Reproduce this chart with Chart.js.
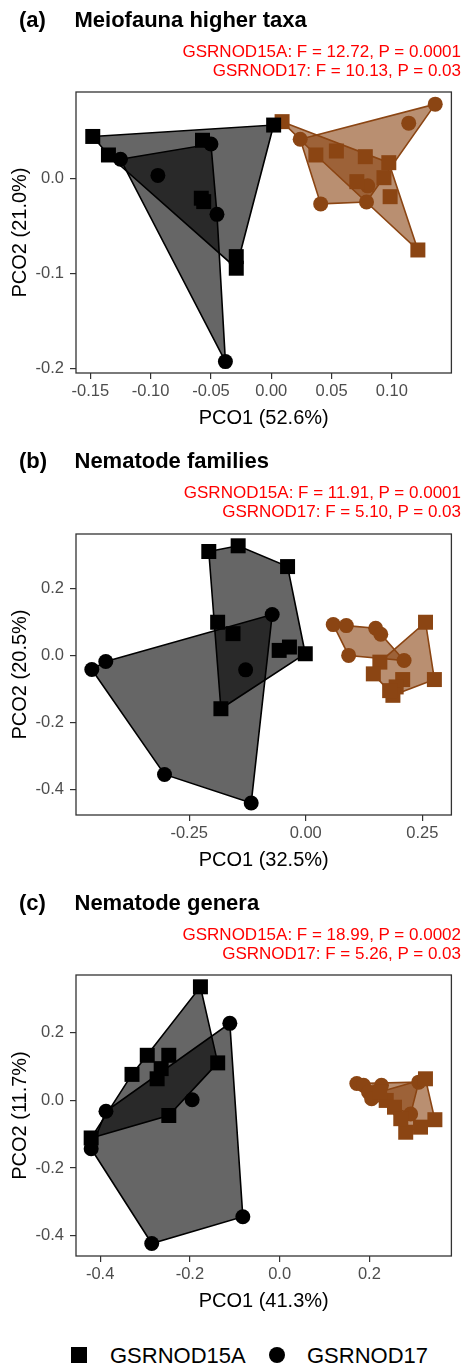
<!DOCTYPE html>
<html>
<head>
<meta charset="utf-8">
<script src="https://cdn.jsdelivr.net/npm/chart.js@4.4.1/dist/chart.umd.min.js"></script>
<style>
html,body{margin:0;padding:0;background:#fff;width:462px;height:1365px;overflow:hidden;}
body{position:relative;font-family:"Liberation Sans",Arial,sans-serif;}
.panel{position:absolute;left:0;width:462px;height:441px;}
.panel canvas{position:absolute;left:0;top:0;}
.tag,.title{position:absolute;font-weight:bold;font-size:22px;line-height:22px;color:#000;white-space:nowrap;}
.stat{position:absolute;right:1px;font-size:17px;line-height:17px;color:#FF0000;text-align:right;white-space:nowrap;}
.lg-sq{position:absolute;width:16px;height:16px;background:#000;}
.lg-ci{position:absolute;width:16px;height:16px;background:#000;border-radius:50%;}
.lg-tx{position:absolute;font-size:22px;line-height:22px;color:#000;white-space:nowrap;}
</style>
</head>
<body>
<script>
// ---------------- DATA ----------------
const panelTags = ['(a)', '(b)', '(c)'];
const panelTitles = ['Meiofauna higher taxa', 'Nematode families', 'Nematode genera'];
const stat15A = ['GSRNOD15A: F = 12.72, P = 0.0001', 'GSRNOD15A: F = 11.91, P = 0.0001', 'GSRNOD15A: F = 18.99, P = 0.0002'];
const stat17 = ['GSRNOD17: F = 10.13, P = 0.03', 'GSRNOD17: F = 5.10, P = 0.03', 'GSRNOD17: F = 5.26, P = 0.03'];
const xTitles = ['PCO1 (52.6%)', 'PCO1 (32.5%)', 'PCO1 (41.3%)'];
const yTitles = ['PCO2 (21.0%)', 'PCO2 (20.5%)', 'PCO2 (11.7%)'];
const legendLabels = ['GSRNOD15A', 'GSRNOD17'];

// tick values and labels
const xTicksA = [-0.15, -0.10, -0.05, 0.00, 0.05, 0.10];
const xTickLabelsA = ['-0.15', '-0.10', '-0.05', '0.00', '0.05', '0.10'];
const yTicksA = [-0.2, -0.1, 0.0];
const yTickLabelsA = ['-0.2', '-0.1', '0.0'];
const xTicksB = [-0.25, 0.00, 0.25];
const xTickLabelsB = ['-0.25', '0.00', '0.25'];
const yTicksB = [-0.4, -0.2, 0.0, 0.2];
const yTickLabelsB = ['-0.4', '-0.2', '0.0', '0.2'];
const xTicksC = [-0.4, -0.2, 0.0, 0.2];
const xTickLabelsC = ['-0.4', '-0.2', '0.0', '0.2'];
const yTicksC = [-0.4, -0.2, 0.0, 0.2];
const yTickLabelsC = ['-0.4', '-0.2', '0.0', '0.2'];

// axis limits
const xRangeA = [-0.1619, 0.1494], yRangeA = [-0.205, 0.0908];
const xRangeB = [-0.4929, 0.3125], yRangeB = [-0.476, 0.3622];
const xRangeC = [-0.4538, 0.3828], yRangeC = [-0.46, 0.3709];

// (a) Meiofauna higher taxa  [PCO1, PCO2]
const aBlack15A = [[-0.148,0.044],[-0.135,0.0245],[-0.057,0.040],[-0.058,-0.021],[-0.056,-0.0246],[-0.029,-0.0825],[-0.029,-0.0947],[0.002,0.056]];
const aBlack17  = [[-0.125,0.020],[-0.094,0.003],[-0.050,0.036],[-0.045,-0.038],[-0.038,-0.193]];
const aBrown15A = [[0.009,0.0596],[0.037,0.0245],[0.054,0.0287],[0.078,0.0227],[0.0975,0.0164],[0.071,-0.0036],[0.0935,0.0006],[0.0986,-0.0194],[0.1216,-0.0755]];
const aBrown17  = [[0.024,0.041],[0.136,0.078],[0.114,0.058],[0.041,-0.027],[0.079,-0.025],[0.080,-0.008]];

// (b) Nematode families
const bBlack15A = [[-0.208,0.310],[-0.145,0.327],[-0.039,0.265],[-0.189,0.099],[-0.156,0.065],[-0.057,0.015],[-0.035,0.025],[-0.001,0.005],[-0.182,-0.159]];
const bBlack17  = [[-0.459,-0.042],[-0.429,-0.018],[-0.072,0.122],[-0.129,-0.043],[-0.303,-0.355],[-0.117,-0.440]];
const bBrown15A = [[0.257,0.099],[0.159,-0.020],[0.145,-0.055],[0.276,-0.072],[0.208,-0.072],[0.194,-0.094],[0.187,-0.119],[0.180,-0.105]];
const bBrown17  = [[0.059,0.092],[0.087,0.089],[0.150,0.081],[0.161,0.063],[0.092,0.000],[0.211,-0.015]];

// (c) Nematode genera
const cBlack15A = [[-0.1765,0.336],[-0.295,0.1335],[-0.247,0.1335],[-0.329,0.077],[-0.264,0.094],[-0.273,0.064],[-0.138,0.111],[-0.247,-0.0445],[-0.420,-0.111]];
const cBlack17  = [[-0.111,0.228],[-0.387,-0.032],[-0.195,0.002],[-0.420,-0.143],[-0.082,-0.344],[-0.285,-0.423]];
const cBrown15A = [[0.325,0.064],[0.346,-0.057],[0.2375,0.0],[0.256,-0.020],[0.281,-0.094],[0.314,-0.079],[0.270,-0.054],[0.223,0.025]];
const cBrown17  = [[0.172,0.050],[0.187,0.045],[0.198,0.025],[0.205,0.005],[0.227,0.045],[0.310,0.054],[0.292,-0.040]];

// ---------------- STYLE ----------------
const FONT = '"Liberation Sans", Arial, sans-serif';
const BLACK = '#000000', BROWN = '#8B4513';
const BLACK_FILL = 'rgba(0,0,0,0.6)', BROWN_FILL = 'rgba(139,69,19,0.6)';
const PANEL_TOPS = [0, 441.5, 883];

function hull(points) {
  const p = points.map(q => [q[0], q[1]]).sort((a, b) => a[0] - b[0] || a[1] - b[1]);
  const cross = (o, a, b) => (a[0]-o[0])*(b[1]-o[1]) - (a[1]-o[1])*(b[0]-o[0]);
  const lower = [], upper = [];
  for (const pt of p) { while (lower.length >= 2 && cross(lower[lower.length-2], lower[lower.length-1], pt) <= 0) lower.pop(); lower.push(pt); }
  for (let i = p.length - 1; i >= 0; i--) { const pt = p[i]; while (upper.length >= 2 && cross(upper[upper.length-2], upper[upper.length-1], pt) <= 0) upper.pop(); upper.push(pt); }
  upper.pop(); lower.pop();
  const h = lower.concat(upper);
  h.push(h[0]);
  return h;
}

const borderPlugin = {
  id: 'panelBorder',
  afterDatasetsDraw(chart) {
    const a = chart.chartArea, ctx = chart.ctx;
    ctx.save();
    ctx.strokeStyle = '#333333';
    ctx.lineWidth = 1.3;
    ctx.strokeRect(a.left, a.top, a.right - a.left, a.bottom - a.top);
    ctx.restore();
  }
};

const panels = [
  {groups: [[aBlack15A,'sq',BLACK,BLACK_FILL],[aBlack17,'ci',BLACK,BLACK_FILL],[aBrown15A,'sq',BROWN,BROWN_FILL],[aBrown17,'ci',BROWN,BROWN_FILL]],
   xr: xRangeA, yr: yRangeA, xt: xTicksA, xl: xTickLabelsA, yt: yTicksA, yl: yTickLabelsA},
  {groups: [[bBlack15A,'sq',BLACK,BLACK_FILL],[bBlack17,'ci',BLACK,BLACK_FILL],[bBrown15A,'sq',BROWN,BROWN_FILL],[bBrown17,'ci',BROWN,BROWN_FILL]],
   xr: xRangeB, yr: yRangeB, xt: xTicksB, xl: xTickLabelsB, yt: yTicksB, yl: yTickLabelsB},
  {groups: [[cBlack15A,'sq',BLACK,BLACK_FILL],[cBlack17,'ci',BLACK,BLACK_FILL],[cBrown15A,'sq',BROWN,BROWN_FILL],[cBrown17,'ci',BROWN,BROWN_FILL]],
   xr: xRangeC, yr: yRangeC, xt: xTicksC, xl: xTickLabelsC, yt: yTicksC, yl: yTickLabelsC}
];

function addDiv(cls, text, styles) {
  const d = document.createElement('div');
  d.className = cls;
  if (text) d.textContent = text;
  Object.assign(d.style, styles);
  document.body.appendChild(d);
  return d;
}

panels.forEach((P, i) => {
  const T = PANEL_TOPS[i];
  const wrap = addDiv('panel', null, {top: T + 'px'});
  const cv = document.createElement('canvas');
  cv.width = 462; cv.height = 441;
  cv.style.width = '462px'; cv.style.height = '441px';
  wrap.appendChild(cv);

  addDiv('tag', panelTags[i], {left: '19px', top: (T + 8.9) + 'px'});
  addDiv('title', panelTitles[i], {left: '74.5px', top: (T + 8.9) + 'px'});
  addDiv('stat', stat15A[i], {top: (T + 42.9) + 'px'});
  addDiv('stat', stat17[i], {top: (T + 61.6) + 'px'});

  const datasets = [];
  P.groups.forEach(g => {
    datasets.push({
      type: 'scatter',
      data: g[0].map(p => ({x: p[0], y: p[1]})),
      pointStyle: g[1] === 'sq' ? 'rect' : 'circle',
      pointRadius: g[1] === 'sq' ? 10.6 : 7.5,
      pointHoverRadius: g[1] === 'sq' ? 10.6 : 7.5,
      backgroundColor: g[2], borderColor: g[2], borderWidth: 0,
      showLine: false, order: 1, clip: false
    });
  });
  P.groups.forEach(g => {
    datasets.push({
      type: 'line',
      data: hull(g[0]).map(p => ({x: p[0], y: p[1]})),
      borderColor: g[2], borderWidth: 1.6, backgroundColor: g[3],
      fill: 'shape', pointRadius: 0, pointHoverRadius: 0, tension: 0, order: 2
    });
  });

  new Chart(cv, {
    type: 'scatter',
    data: {datasets},
    options: {
      responsive: false, animation: false, devicePixelRatio: 1, events: [],
      layout: {padding: {top: 92, right: 2, left: 0, bottom: 0}},
      plugins: {legend: {display: false}, tooltip: {enabled: false}, title: {display: false}},
      scales: {
        x: {
          type: 'linear', position: 'bottom', min: P.xr[0], max: P.xr[1],
          afterBuildTicks: s => { s.ticks = P.xt.map(v => ({value: v})); },
          afterFit: s => { s.height = 68; },
          ticks: {
            callback: (v) => { const k = P.xt.findIndex(t => Math.abs(t - v) < 1e-9); return k >= 0 ? P.xl[k] : ''; },
            color: '#4D4D4D', font: {family: FONT, size: 16.5}, padding: 3, maxRotation: 0, autoSkip: false
          },
          grid: {display: true, drawOnChartArea: false, drawTicks: true, tickLength: 6, color: '#333333', lineWidth: 1.2},
          border: {display: false},
          title: {display: true, text: xTitles[i], color: '#000', font: {family: FONT, size: 20}, padding: {top: 0, bottom: 11}}
        },
        y: {
          type: 'linear', position: 'left', min: P.yr[0], max: P.yr[1],
          afterBuildTicks: s => { s.ticks = P.yt.map(v => ({value: v})); },
          afterFit: s => { s.width = 76; },
          ticks: {
            callback: (v) => { const k = P.yt.findIndex(t => Math.abs(t - v) < 1e-9); return k >= 0 ? P.yl[k] : ''; },
            color: '#4D4D4D', font: {family: FONT, size: 16.5}, padding: 6, autoSkip: false
          },
          grid: {display: true, drawOnChartArea: false, drawTicks: true, tickLength: 6, color: '#333333', lineWidth: 1.2},
          border: {display: false},
          title: {display: true, text: yTitles[i], color: '#000', font: {family: FONT, size: 20}, padding: {top: 8, bottom: 0}}
        }
      }
    },
    plugins: [borderPlugin]
  });
});

// legend
addDiv('lg-sq', null, {left: '71px', top: '1347px'});
addDiv('lg-tx', legendLabels[0], {left: '110px', top: '1344.7px'});
addDiv('lg-ci', null, {left: '269px', top: '1347px'});
addDiv('lg-tx', legendLabels[1], {left: '307px', top: '1344.7px'});
</script>
</body>
</html>
